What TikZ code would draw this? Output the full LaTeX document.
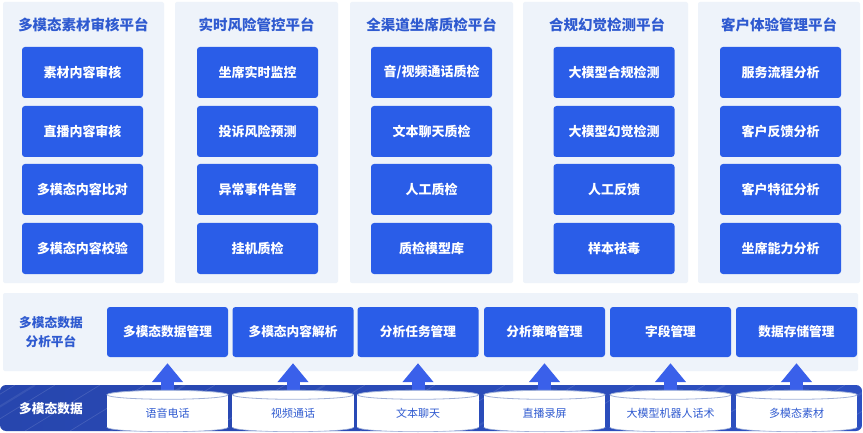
\documentclass[tikz,border=0pt]{standalone}
\usepackage{fontspec}
\setmainfont{Noto Sans CJK SC}
\usetikzlibrary{arrows.meta}
\definecolor{boxblue}{HTML}{2A5DE8}
\definecolor{titleblue}{HTML}{2F5AD0}
\definecolor{panelbg}{HTML}{EEF3FA}
\definecolor{bandleft}{HTML}{2746AE}
\definecolor{bandright}{HTML}{2D50C2}
\definecolor{arrowblue}{HTML}{3A60EA}
\definecolor{cylline}{HTML}{9FB0D8}
\pgfdeclarelayer{back}
\pgfdeclarelayer{mid}
\pgfdeclarelayer{cyl}
\pgfsetlayers{back,mid,cyl,main}
\begin{document}
\begin{tikzpicture}[x=1pt,y=-1pt,
  panel/.style={fill=panelbg, draw=none, rounded corners=2pt},
  fbox/.style={fill=boxblue, rounded corners=3pt, minimum width=121pt, minimum height=51pt,
    text=white, font=\bfseries\fontsize{13}{15}\selectfont, inner sep=0pt},
  mbox/.style={fbox, minimum height=50pt, font=\bfseries\fontsize{12.7}{15}\selectfont},
  ptitle/.style={text=titleblue, font=\bfseries\fontsize{14.5}{17}\selectfont, inner sep=0pt},
  sidelabel/.style={text=titleblue, align=center, font=\bfseries\fontsize{12.7}{19}\selectfont, inner sep=0pt},
  cylnode/.style={minimum width=121pt, minimum height=32pt, inner sep=0pt, text=titleblue,
    font=\fontsize{11}{13}\selectfont, text depth=0pt},
  uparrow/.style={draw=arrowblue, line width=13pt, -{Triangle[width=30pt,length=19pt]}, shorten >=6pt}
]
\useasboundingbox (0,0) rectangle (863,433);

% ---------- backgrounds ----------
\begin{pgfonlayer}{back}
\fill[white] (0,0) rectangle (863,433);
\fill[panel] (3,2) rectangle (164,283);
\fill[panel] (175,2) rectangle (338,283);
\fill[panel] (350,2) rectangle (513,283);
\fill[panel] (523,2) rectangle (688,283);
\fill[panel] (698,2) rectangle (860,283);
\fill[panel] (3,293) rectangle (858,371);
\shade[left color=bandleft, right color=bandright, rounded corners=6pt] (0,385) rectangle (862,431);
\begin{scope}
\clip[rounded corners=6pt] (0,385) rectangle (862,431);
\foreach \x in {-60,-20,25,70,140,210,290,360,430,500,560,630,700,770,830}
  \draw[white, opacity=0.13, line width=0.7pt] (\x,431) -- (\x+75,385);
\foreach \x in {-40,110,250,470,650,800}
  \draw[white, opacity=0.08, line width=2pt] (\x,431) -- (\x+75,385);
\end{scope}
\end{pgfonlayer}

\node[ptitle] (t1) at (83.5,25) {多模态素材审核平台};
\node[ptitle] (t2) at (256.5,25) {实时风险管控平台};
\node[ptitle] (t3) at (431.5,25) {全渠道坐席质检平台};
\node[ptitle] (t4) at (607,25) {合规幻觉检测平台};
\node[ptitle] (t5) at (779,25) {客户体验管理平台};

\node[fbox] (a1) at (82.5,72.5) {素材内容审核};
\node[fbox] (a2) at (82.5,131.5) {直播内容审核};
\node[fbox] (a3) at (82.5,189.5) {多模态内容比对};
\node[fbox] (a4) at (82.5,248.5) {多模态内容校验};

\node[fbox] (b1) at (257.5,72.5) {坐席实时监控};
\node[fbox] (b2) at (257.5,131.5) {投诉风险预测};
\node[fbox] (b3) at (257.5,189.5) {异常事件告警};
\node[fbox] (b4) at (257.5,248.5) {挂机质检};

\node[fbox] (c1) at (431.5,72.5) {音/视频通话质检};
\node[fbox] (c2) at (431.5,131.5) {文本聊天质检};
\node[fbox] (c3) at (431.5,189.5) {人工质检};
\node[fbox] (c4) at (431.5,248.5) {质检模型库};

\node[fbox] (d1) at (614,72.5) {大模型合规检测};
\node[fbox] (d2) at (614,131.5) {大模型幻觉检测};
\node[fbox] (d3) at (614,189.5) {人工反馈};
\node[fbox] (d4) at (614,248.5) {样本祛毒};

\node[fbox] (e1) at (780.5,72.5) {服务流程分析};
\node[fbox] (e2) at (780.5,131.5) {客户反馈分析};
\node[fbox] (e3) at (780.5,189.5) {客户特征分析};
\node[fbox] (e4) at (780.5,248.5) {坐席能力分析};

% ---------- middle platform ----------
\node[sidelabel] (mlabel) at (51,332) {多模态数据\\分析平台};
\node[mbox] (m1) at (167.5,332) {多模态数据管理};
\node[mbox] (m2) at (293,332) {多模态内容解析};
\node[mbox] (m3) at (418,332) {分析任务管理};
\node[mbox] (m4) at (544.5,332) {分析策略管理};
\node[mbox] (m5) at (670.5,332) {字段管理};
\node[mbox] (m6) at (796.5,332) {数据存储管理};

% ---------- bottom data ----------
\node[text=white, font=\bfseries\fontsize{12.7}{15}\selectfont, inner sep=0pt] (blabel) at (51,409) {多模态数据};

\node[cylnode] (s1) at (167.5,411) {\raisebox{-4pt}{语音电话}};
\node[cylnode] (s2) at (293,411) {\raisebox{-4pt}{视频通话}};
\node[cylnode] (s3) at (418,411) {\raisebox{-4pt}{文本聊天}};
\node[cylnode] (s4) at (544.5,411) {\raisebox{-4pt}{直播录屏}};
\node[cylnode] (s5) at (670.5,411) {\raisebox{-4pt}{大模型机器人话术}};
\node[cylnode] (s6) at (796.5,411) {\raisebox{-4pt}{多模态素材}};

\begin{pgfonlayer}{cyl}
\foreach \s in {s1,s2,s3,s4,s5,s6}{
  \filldraw[fill=white, draw=cylline, line width=0.6pt] (\s.south) ellipse [x radius=60.5pt, y radius=4.5pt];
  \fill[white] (\s.north west) rectangle (\s.south east);
  \filldraw[fill=white, draw=cylline, line width=0.8pt] (\s.north) ellipse [x radius=60.5pt, y radius=4.5pt];
}
\end{pgfonlayer}

\begin{pgfonlayer}{mid}
\draw[uparrow] (s1.north) -- (m1.south);
\draw[uparrow] (s2.north) -- (m2.south);
\draw[uparrow] (s3.north) -- (m3.south);
\draw[uparrow] (s4.north) -- (m4.south);
\draw[uparrow] (s5.north) -- (m5.south);
\draw[uparrow] (s6.north) -- (m6.south);
\end{pgfonlayer}
\end{tikzpicture}
\end{document}
